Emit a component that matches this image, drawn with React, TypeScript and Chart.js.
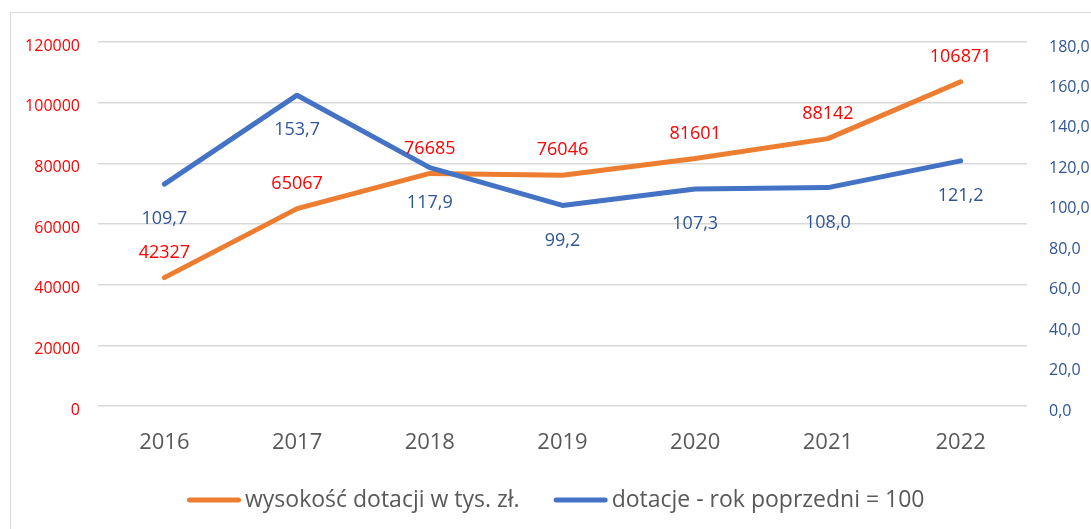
import React, { useEffect, useRef } from "react";
import { Chart, registerables } from "chart.js";

Chart.register(...registerables);

const years = ["2016", "2017", "2018", "2019", "2020", "2021", "2022"];
const amounts = [42327, 65067, 76685, 76046, 81601, 88142, 106871];
const indexValues = [109.7, 153.7, 117.9, 99.2, 107.3, 108.0, 121.2];
const leftTicks = [0, 20000, 40000, 60000, 80000, 100000, 120000];
const rightTicks = [0, 20, 40, 60, 80, 100, 120, 140, 160, 180];
const seriesNames = ["wysokość dotacji w tys. zł.", "dotacje - rok poprzedni = 100"];

const FONT = "'Open Sans', 'DejaVu Sans', sans-serif";
const ORANGE = "#ed7d31";
const BLUE = "#4472c4";
const RED = "#ff0000";
const DARKBLUE = "#2f5597";
const GREY = "#595959";

const fmtIndex = (v: number) => v.toFixed(1).replace(".", ",");

const dataLabelPlugin = {
  id: "dataLabels",
  afterDatasetsDraw(chart: any) {
    const ctx = chart.ctx;
    ctx.save();
    ctx.font = `18px ${FONT}`;
    ctx.textAlign = "center";
    ctx.textBaseline = "middle";
    chart.data.datasets.forEach((ds: any, i: number) => {
      const meta = chart.getDatasetMeta(i);
      meta.data.forEach((pt: any, j: number) => {
        const v = ds.data[j];
        if (i === 0) {
          ctx.fillStyle = RED;
          ctx.fillText(String(v), pt.x, pt.y - 25);
        } else {
          ctx.fillStyle = DARKBLUE;
          ctx.fillText(fmtIndex(v), pt.x, pt.y + 35);
        }
      });
    });
    ctx.restore();
  },
};

const legendPlugin = {
  id: "customLegend",
  afterDraw(chart: any) {
    const ctx = chart.ctx;
    ctx.save();
    ctx.font = `23px ${FONT}`;
    const lineLen = 54;
    const gap = 4;
    const itemGap = 34;
    const items = chart.data.datasets.map((ds: any) => ({
      text: ds.label,
      color: ds.borderColor,
      w: ctx.measureText(ds.label).width,
    }));
    let x = 187;
    const y = 500;
    items.forEach((it: any) => {
      ctx.strokeStyle = it.color;
      ctx.lineWidth = 5;
      ctx.lineCap = "round";
      ctx.beginPath();
      ctx.moveTo(x + 2.5, y);
      ctx.lineTo(x + lineLen - 2.5, y);
      ctx.stroke();
      x += lineLen + gap;
      ctx.fillStyle = GREY;
      ctx.textAlign = "left";
      ctx.textBaseline = "middle";
      ctx.fillText(it.text, x, y);
      x += it.w + itemGap;
    });
    ctx.restore();
  },
};

export default function App() {
  const canvasRef = useRef<HTMLCanvasElement | null>(null);

  useEffect(() => {
    if (!canvasRef.current) return;
    const chart = new Chart(canvasRef.current, {
      type: "line",
      data: {
        labels: years,
        datasets: [
          {
            label: seriesNames[0],
            data: amounts,
            borderColor: ORANGE,
            backgroundColor: ORANGE,
            borderWidth: 5,
            pointRadius: 0,
            tension: 0,
            borderCapStyle: "round",
            borderJoinStyle: "round",
            yAxisID: "y",
            order: 1,
          },
          {
            label: seriesNames[1],
            data: indexValues,
            borderColor: BLUE,
            backgroundColor: BLUE,
            borderWidth: 5,
            pointRadius: 0,
            tension: 0,
            borderCapStyle: "round",
            borderJoinStyle: "round",
            yAxisID: "y1",
            order: 0,
          },
        ],
      },
      options: {
        responsive: false,
        animation: false,
        layout: { padding: { top: 42, left: 0, right: 0, bottom: 0 } },
        plugins: {
          legend: { display: false },
          tooltip: { enabled: false },
        },
        scales: {
          x: {
            offset: true,
            grid: { display: false, drawTicks: false },
            border: { display: false },
            ticks: {
              color: GREY,
              font: { family: FONT, size: 22 },
              padding: 24,
              maxRotation: 0,
            },
            afterFit: (s: any) => {
              s.height = 123;
            },
          },
          y: {
            position: "left",
            min: 0,
            max: 120000,
            afterBuildTicks: (s: any) => {
              s.ticks = leftTicks.map((v) => ({ value: v }));
            },
            ticks: {
              color: RED,
              font: { family: FONT, size: 16 },
              padding: 18,
              labelOffset: 4,
              callback: (v: any) => String(v),
            },
            grid: { color: "#d9d9d9", lineWidth: 1.5, drawTicks: false },
            border: { display: false },
            afterFit: (s: any) => {
              s.width = 98;
            },
          },
          y1: {
            position: "right",
            min: 0,
            max: 180,
            afterBuildTicks: (s: any) => {
              s.ticks = rightTicks.map((v) => ({ value: v }));
            },
            ticks: {
              color: DARKBLUE,
              font: { family: FONT, size: 16 },
              padding: 22,
              labelOffset: 5,
              callback: (v: any) => fmtIndex(Number(v)),
            },
            grid: { display: false, drawTicks: false },
            border: { display: false },
            afterFit: (s: any) => {
              s.width = 64;
            },
          },
        },
      },
      plugins: [dataLabelPlugin, legendPlugin],
    });
    return () => chart.destroy();
  }, []);

  return (
    <div
      style={{
        position: "fixed",
        left: 0,
        top: 0,
        width: 1091,
        height: 529,
        overflow: "hidden",
        background: "#ffffff",
      }}
    >
      <div
        style={{
          position: "absolute",
          left: 10,
          top: 12,
          width: 1120,
          height: 560,
          border: "1px solid #d9d9d9",
          boxSizing: "border-box",
        }}
      />
      <canvas
        ref={canvasRef}
        width={1091}
        height={529}
        style={{ position: "absolute", left: 0, top: 0, width: 1091, height: 529 }}
      />
    </div>
  );
}
